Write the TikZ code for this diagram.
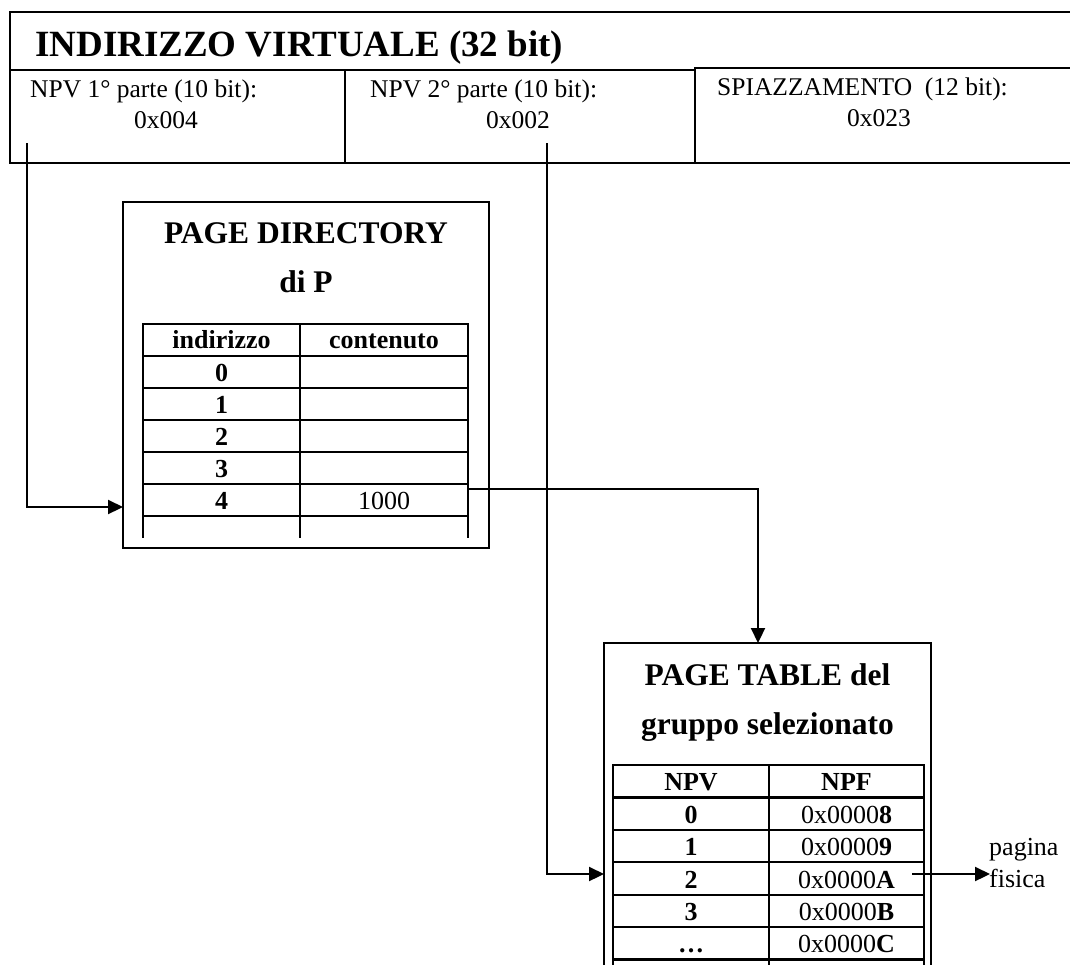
\documentclass[tikz,border=0pt]{standalone}
\usepackage{fontspec}
\setmainfont{Liberation Serif}
\usetikzlibrary{arrows.meta}
\newcommand\pxsize[1]{\fontsize{#1pt}{#1pt}\selectfont}
\begin{document}
\begin{tikzpicture}[x=1pt,y=-1pt,
  line/.style={line width=2.2pt,black},
  grid/.style={line width=2.2pt,black,line cap=rect},
  arr/.style={line width=2.2pt,black,-{Triangle[length=15pt,width=14pt]}},
  ttl/.style={font=\pxsize{37}\bfseries,anchor=base west,inner sep=0pt},
  cell/.style={font=\pxsize{25.5},anchor=base west,inner sep=0pt},
  cellc/.style={font=\pxsize{25.5},anchor=base,inner sep=0pt},
  boxttl/.style={font=\pxsize{31.5}\bfseries,anchor=base,inner sep=0pt},
  tb/.style={font=\pxsize{26}\bfseries,anchor=base,inner sep=0pt},
  tr/.style={font=\pxsize{26},anchor=base,inner sep=0pt},
  frame/.style={draw,line width=2.2pt,inner sep=0pt,outer sep=0pt,anchor=north west},
]
\useasboundingbox (0,0) rectangle (1070,964);
\clip (0,0) rectangle (1070,964);

% virtual address layout
\draw[line] (1070,12) -- (10,12) -- (10,163) -- (1070,163);
\draw[line] (10,70) -- (695,70);
\draw[line] (695,163) -- (695,68) -- (1070,68);
\draw[line] (345,70) -- (345,163);
\node[ttl] (vaddr) at (35,56) {INDIRIZZO VIRTUALE (32 bit)};
\node[cell] (p1a) at (30,97) {NPV 1° parte (10 bit):};
\node[cellc] (p1b) at (166,128) {0x004};
\node[cell] (p2a) at (370,97) {NPV 2° parte (10 bit):};
\node[cellc] (p2b) at (518,128) {0x002};
\node[cell] (offa) at (717,95) {SPIAZZAMENTO\ \ (12 bit):};
\node[cellc] (offb) at (879,126) {0x023};
\coordinate (v1) at (27,143);
\coordinate (v2) at (547,143);

% page directory
\node[frame,minimum width=366pt,minimum height=346pt] (pd) at (123,202) {};
\node[boxttl] (pdt1) at (306,243) {PAGE DIRECTORY};
\node[boxttl] (pdt2) at (306,292) {di P};
\foreach \y in {324,356,388,420,452,484,516} \draw[grid] (143,\y) -- (468,\y);
\foreach \x in {143,300,468} \draw[grid] (\x,324) -- (\x,537);
\node[tb] (pdh1) at (221.5,348) {indirizzo};
\node[tb] (pdh2) at (384,348) {contenuto};
\foreach \k in {0,...,4} \node[tb] (pdr\k) at (221.5,381+32*\k) {\k};
\node[tr] (pdc4) at (384,509) {1000};
\coordinate (pdin) at (123,507);
\coordinate (pdout) at (468,489);

% page table
\node[frame,minimum width=327pt,minimum height=360pt] (pt) at (604,643) {};
\node[boxttl] (ptt1) at (767.5,685) {PAGE TABLE del};
\node[boxttl] (ptt2) at (767.5,734) {gruppo selezionato};
\foreach \k in {0,...,6} \draw[grid] (613,765+32.4*\k) -- (924,765+32.4*\k);
\foreach \x in {613,769,924} \draw[grid] (\x,765) -- (\x,980);
\node[tb] (pth1) at (691,790.5) {NPV};
\node[tb] (pth2) at (846.5,790.5) {NPF};
\node[tb] (ptr0) at (691,823) {0};
\node[tb] (ptr1) at (691,855.5) {1};
\node[tb] (ptr2) at (691,888) {2};
\node[tb] (ptr3) at (691,920) {3};
\node[tb] (ptr4) at (691,952.5) {…};
\node[tr] (ptc0) at (846.5,823) {0x0000\textbf{8}};
\node[tr] (ptc1) at (846.5,855.5) {0x0000\textbf{9}};
\node[tr] (ptc2) at (846.5,888) {0x0000\textbf{A}};
\node[tr] (ptc3) at (846.5,920) {0x0000\textbf{B}};
\node[tr] (ptc4) at (846.5,952.5) {0x0000\textbf{C}};
\coordinate (ptin) at (758,643);
\coordinate (ptrow) at (604,874);
\coordinate (ptout) at (912,874);

% physical page label
\node[tr,anchor=base west] (pg1) at (989,855) {pagina};
\node[tr,anchor=base west] (pg2) at (989,887) {fisica};
\coordinate (pgin) at (990,874);

% translation path
\draw[arr] (v1) |- (pdin);
\draw[arr] (pdout) -| (ptin);
\draw[arr] (v2) |- (ptrow);
\draw[arr] (ptout) -- (pgin);
\end{tikzpicture}
\end{document}
